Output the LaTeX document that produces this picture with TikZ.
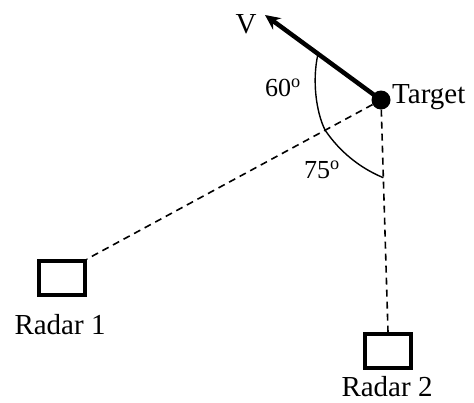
\documentclass[tikz,border=0pt]{standalone}
\usepackage{fontspec}
\setmainfont{Liberation Serif}
\usetikzlibrary{arrows.meta,calc}
\begin{document}
\begin{tikzpicture}[x=1pt,y=-1pt,
  lbl/.style={inner sep=0pt,font=\fontsize{29}{32}\selectfont},
  anglbl/.style={inner sep=0pt,font=\fontsize{26}{30}\selectfont},
  radarbox/.style={draw,line width=4pt,minimum width=46pt,minimum height=34pt,inner sep=0pt},
  dashline/.style={line width=1.6pt,dash pattern=on 7pt off 5pt},
  arcline/.style={line width=1.4pt}]
\useasboundingbox (0,0) rectangle (474,402);
\node[circle,fill=black,minimum size=19pt,inner sep=0pt] (target) at (381,100) {};
\coordinate (vtip) at (265,15);
\node[radarbox] (r1) at (62,278) {};
\node[radarbox] (r2) at (388,351) {};
\draw[dashline] (target) -- (r1.north east);
\draw[dashline] (target) -- (r2.north);
\draw[line width=4.5pt,-{Stealth[length=15pt,width=14pt,inset=5pt]}] (target.center) -- (vtip);
\coordinate (a1) at ($(target.center)!0.543!(vtip)$);
\coordinate (a2) at ($(target.center)!0.19!(r1.north east)$);
\coordinate (a3) at ($(target.center)!0.335!(r2.north)$);
\draw[arcline] (a1) .. controls (312,80) and (316,112) .. (a2);
\draw[arcline] (a2) .. controls (340,152) and (360,168) .. (a3);
\node[lbl] (vl) at (246,24) {V};
\node[lbl,anchor=west] (tl) at (392,97) {Target};
\node[lbl] (r1l) at (60,325) {Radar 1};
\node[lbl] (r2l) at (387,387) {Radar 2};
\node[anglbl] (l60) at (283,88) {60\textsuperscript{o}};
\node[anglbl] (l75) at (322,170) {75\textsuperscript{o}};
\end{tikzpicture}
\end{document}
